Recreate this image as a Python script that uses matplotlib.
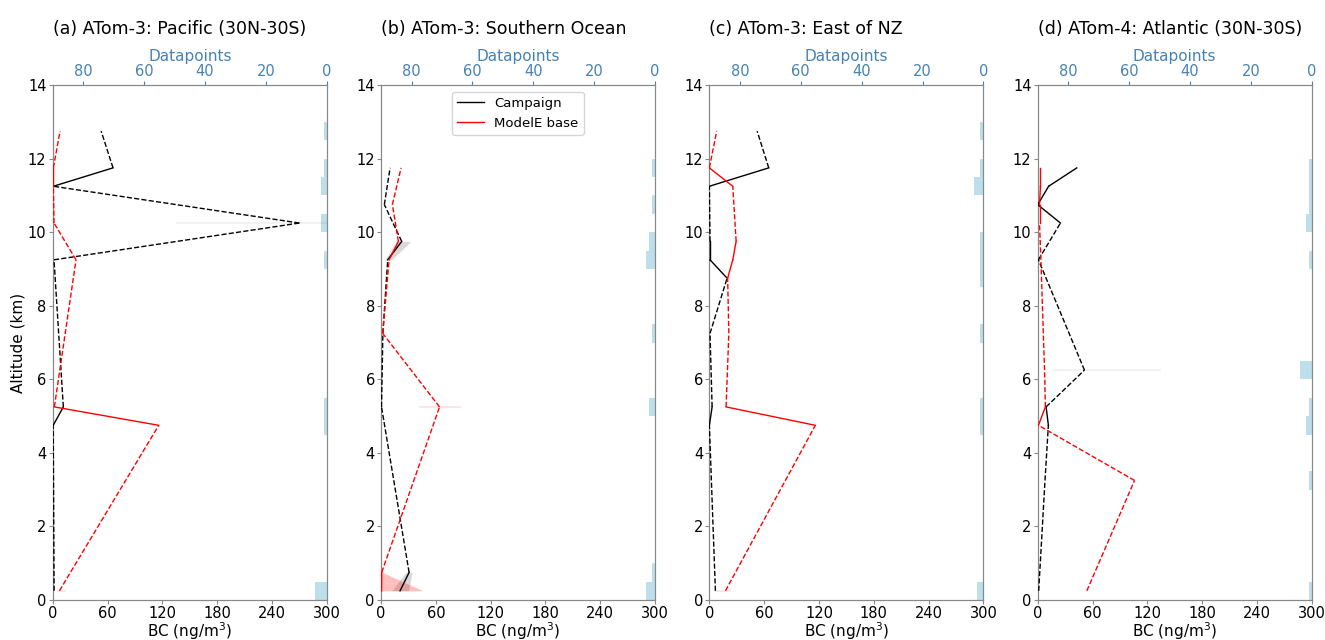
import matplotlib
matplotlib.use("Agg")
import matplotlib.pyplot as plt
from matplotlib.lines import Line2D
import numpy as np

# ---------------- data ----------------
titles = ["(a) ATom-3: Pacific (30N-30S)", "(b) ATom-3: Southern Ocean",
          "(c) ATom-3: East of NZ", "(d) ATom-4: Atlantic (30N-30S)"]

# altitude bin centres (km) that contain data
a_alt = [0.25, 4.75, 5.25, 9.25, 10.25, 11.25, 11.75, 12.75]
a_n = [4, 1, 1, 1, 2, 2, 1, 1]
a_camp = [1.5, 0.5, 11.6, 1.4, 270, 0.7, 66, 53]
a_model = [7.3, 116, 1.8, 25.5, 1.4, 0.7, 0.7, 8]
a_camp_band = [(10.25, 135, 405)]
a_model_band = [(0.25, 4.4, 14.6)]

b_alt = [0.25, 0.75, 5.25, 7.25, 9.25, 9.75, 10.75, 11.75]
b_n = [3, 1, 2, 1, 3, 2, 1, 1]
b_camp = [20.8, 30.7, 0.5, 2, 7.3, 22.6, 3.6, 9.9]
b_model = [0.5, 0.7, 64, 1.8, 8.8, 19, 12.4, 21.9]
b_camp_band = [(0.25, 11.7, 30), (0.75, 27, 34), (9.25, 4.4, 11.7), (9.75, 16.4, 32.5)]
b_model_band = [(0.25, 0, 46), (0.75, 0, 1.5), (5.25, 42, 87)]

c_alt = [0.25, 4.75, 5.25, 7.25, 8.75, 9.25, 9.75, 11.25, 11.75, 12.75]
c_n = [2, 1, 1, 1, 1, 1, 1, 3, 1, 1]
c_camp = [6.6, 0, 3, 0.7, 19.4, 0.7, 0.7, 0, 65, 52.3]
c_model = [17.6, 116, 18.3, 21.3, 20, 25.6, 29.3, 25.6, 0, 8]
c_camp_band = []
c_model_band = [(0.25, 5.5, 23.7)]

d_alt = [0.25, 3.25, 4.75, 5.25, 6.25, 9.25, 10.25, 10.75, 11.25, 11.75]
d_n = [1, 1, 2, 1, 4, 1, 2, 1, 1, 1]
d_camp = [1.1, 8, 11.7, 9.2, 51.2, 0.8, 24.9, 0, 12, 42.8]
d_model = [53.8, 106, 0.8, 8.4, 7.5, 3.5, 2, 2, 3, 3]
d_camp_band = [(6.25, 17, 135)]
d_model_band = []

panels = [
    (a_alt, a_n, a_camp, a_model, a_camp_band, a_model_band),
    (b_alt, b_n, b_camp, b_model, b_camp_band, b_model_band),
    (c_alt, c_n, c_camp, c_model, c_camp_band, c_model_band),
    (d_alt, d_n, d_camp, d_model, d_camp_band, d_model_band),
]

bc_ticks = [0, 60, 120, 180, 240, 300]
alt_ticks = [0, 2, 4, 6, 8, 10, 12, 14]
dp_ticks = [0, 20, 40, 60, 80]
BIN = 0.5

# ---------------- plotting ----------------
fig, axes = plt.subplots(1, 4, figsize=(13.25, 6.4), dpi=100)
fig.subplots_adjust(left=0.0398, right=0.99, bottom=0.0625, top=0.867, wspace=0.198)

blue = "#4682B4"
spine_c = "#888888"


def draw_band(ax, band, color, alpha_fill, alpha_line):
    band = sorted(band)
    runs, cur = [], []
    for b in band:
        if cur and abs(b[0] - cur[-1][0] - BIN) > 1e-6:
            runs.append(cur)
            cur = []
        cur.append(b)
    if cur:
        runs.append(cur)
    for r in runs:
        ys = [b[0] for b in r]
        lo = [b[1] for b in r]
        hi = [b[2] for b in r]
        if len(r) == 1:
            ax.hlines(ys[0], lo[0], hi[0], color=color, alpha=alpha_line, lw=1.2, zorder=1)
        else:
            ax.fill_betweenx(ys, lo, hi, color=color, alpha=alpha_fill, lw=0, zorder=1)


def draw_profile(ax, alt, val, color):
    for i in range(len(alt) - 1):
        ls = "-" if abs(alt[i + 1] - alt[i] - BIN) < 1e-6 else "--"
        ax.plot([val[i], val[i + 1]], [alt[i], alt[i + 1]], color=color, lw=1.0, ls=ls, zorder=3)


for k, (ax, (alt, n, camp, model, cband, mband)) in enumerate(zip(axes, panels)):
    axt = ax.twiny()
    axt.barh(alt, n, height=BIN, color="lightblue", alpha=0.8, zorder=0)
    axt.set_xlim(90, 0)
    axt.set_xticks(dp_ticks)
    axt.tick_params(axis="x", colors=blue, labelsize=10.5, length=3, pad=1.5)
    axt.set_xlabel("Datapoints", color=blue, fontsize=11, labelpad=2)
    for s in axt.spines.values():
        s.set_color(spine_c)

    ax.set_zorder(axt.get_zorder() + 1)
    ax.patch.set_visible(False)

    draw_band(ax, cband, "gray", 0.3, 0.12)
    draw_band(ax, mband, "red", 0.25, 0.12)
    draw_profile(ax, alt, camp, "black")
    draw_profile(ax, alt, model, "red")

    ax.set_xlim(0, 300)
    ax.set_ylim(0, 14)
    ax.set_xticks(bc_ticks)
    ax.set_yticks(alt_ticks)
    ax.tick_params(labelsize=10.5, color=spine_c, length=3, pad=1.5)
    for s in ax.spines.values():
        s.set_color(spine_c)
    ax.set_xlabel("BC (ng/m$^3$)", fontsize=11, labelpad=-1)
    if k == 0:
        ax.set_ylabel("Altitude (km)", fontsize=11, labelpad=2)
    ax.set_title(titles[k], loc="left", fontsize=12.5, pad=11)

    if k == 1:
        handles = [Line2D([0], [0], color="black", lw=1.0),
                   Line2D([0], [0], color="red", lw=1.0)]
        ax.legend(handles, ["Campaign", "ModelE base"], loc="upper center",
                  fontsize=9.5, frameon=True)

fig.savefig("out.png", dpi=100)
